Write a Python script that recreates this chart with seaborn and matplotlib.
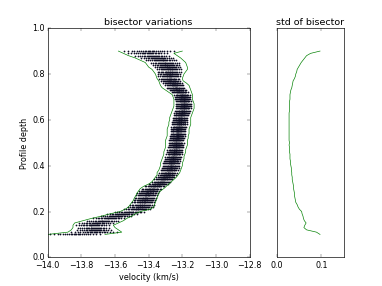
import numpy as np
import pandas as pd
import seaborn as sns
from matplotlib import pyplot as plt

# depth levels of the profile
depth = np.round(np.arange(0.10, 0.905, 0.01), 2)

# left / right envelope of the bisectors (km/s)
left_env = [
    -14.00, -13.88, -13.86, -13.85, -13.85, -13.84, -13.79, -13.74, -13.68, -13.63,
    -13.57, -13.54, -13.52, -13.51, -13.50, -13.49, -13.485, -13.475, -13.47, -13.46,
    -13.45, -13.43, -13.40, -13.38, -13.37, -13.36, -13.35, -13.35, -13.34, -13.335,
    -13.33, -13.33, -13.325, -13.32, -13.315, -13.31, -13.31, -13.305, -13.30, -13.30,
    -13.30, -13.30, -13.295, -13.29, -13.29, -13.29, -13.29, -13.285, -13.28, -13.28,
    -13.275, -13.275, -13.27, -13.265, -13.26, -13.255, -13.25, -13.25, -13.25, -13.25,
    -13.255, -13.26, -13.28, -13.30, -13.32, -13.33, -13.335, -13.34, -13.35, -13.355,
    -13.36, -13.37, -13.38, -13.40, -13.41, -13.42, -13.45, -13.48, -13.52, -13.55,
    -13.58,
]
right_env = [
    -13.66, -13.56, -13.58, -13.60, -13.61, -13.58, -13.55, -13.53, -13.50, -13.48,
    -13.45, -13.39, -13.37, -13.365, -13.36, -13.355, -13.35, -13.345, -13.34, -13.33,
    -13.31, -13.295, -13.28, -13.265, -13.25, -13.235, -13.225, -13.215, -13.21, -13.205,
    -13.20, -13.20, -13.195, -13.19, -13.19, -13.185, -13.18, -13.18, -13.175, -13.17,
    -13.17, -13.17, -13.165, -13.165, -13.16, -13.16, -13.16, -13.155, -13.15, -13.15,
    -13.15, -13.15, -13.145, -13.14, -13.135, -13.13, -13.13, -13.13, -13.135, -13.14,
    -13.14, -13.14, -13.145, -13.15, -13.155, -13.16, -13.175, -13.195, -13.20, -13.195,
    -13.19, -13.18, -13.17, -13.17, -13.175, -13.18, -13.195, -13.21, -13.23, -13.25,
    -13.20,
]

# std of the bisector at each depth
bis_std = [
    0.097, 0.089, 0.067, 0.061, 0.063, 0.066, 0.062, 0.060, 0.059, 0.057,
    0.056, 0.051, 0.048, 0.046, 0.043, 0.042, 0.041, 0.040, 0.040, 0.039,
    0.038, 0.038, 0.037, 0.036, 0.035, 0.035, 0.034, 0.034, 0.033, 0.033,
    0.032, 0.031, 0.031, 0.030, 0.030, 0.030, 0.029, 0.029, 0.029, 0.028,
    0.029, 0.028, 0.028, 0.028, 0.028, 0.028, 0.028, 0.028, 0.028, 0.028,
    0.028, 0.028, 0.028, 0.028, 0.029, 0.029, 0.029, 0.029, 0.029, 0.030,
    0.030, 0.030, 0.031, 0.032, 0.034, 0.035, 0.036, 0.037, 0.040, 0.042,
    0.043, 0.045, 0.046, 0.049, 0.052, 0.055, 0.059, 0.063, 0.067, 0.076,
    0.097,
]

# offset of each individual bisector, in units of std
profile_offsets = [-1.6, -1.35, -1.15, -0.98, -0.82, -0.68, -0.55, -0.44, -0.34,
                   -0.25, -0.16, -0.08, 0.0, 0.08, 0.16, 0.25, 0.35, 0.46, 0.58,
                   0.7, 0.84, 1.0, 1.2, 1.45]


def vline(ax, xs, color='g'):
    # draw a profile as velocity vs depth, one point per depth
    sns.lineplot(x=xs, y=depth, ax=ax, orient='y', estimator=None,
                 errorbar=None, sort=False, color=color, lw=1)


def main():
    plt.style.use('classic')
    left = np.array(left_env)
    right = np.array(right_env)
    std = np.array(bis_std)
    centre = (left + right) / 2

    rows = []
    for off in profile_offsets:
        for d, c, s in zip(depth, centre, std):
            rows.append((c + off * s, d))
    points = pd.DataFrame(rows, columns=['velocity', 'depth'])

    fig = plt.figure(figsize=(8, 6))
    gs = fig.add_gridspec(1, 2, width_ratios=[3, 1])
    ax = fig.add_subplot(gs[0])
    ax2 = fig.add_subplot(gs[1])

    sns.scatterplot(data=points, x='velocity', y='depth', ax=ax, color='#0c0c22',
                    marker='o', s=7, linewidth=0, legend=False)
    vline(ax, left_env)
    vline(ax, right_env)
    ax.set_xlim(-14.0, -12.8)
    ax.set_ylim(0, 1)
    ax.set_xticks(np.arange(-14.0, -12.79, 0.2))
    ax.set_title('bisector variations')
    ax.set_xlabel('velocity (km/s)')
    ax.set_ylabel('Profile depth')

    vline(ax2, bis_std)
    ax2.set_xlim(0, 0.15)
    ax2.set_ylim(0, 1)
    ax2.set_xticks([0, 0.1])
    ax2.set_yticks([])
    ax2.set_xlabel('')
    ax2.set_ylabel('')
    ax2.set_title('std of bisector')

    fig.savefig('out.png', dpi=47.75)


if __name__ == '__main__':
    main()
